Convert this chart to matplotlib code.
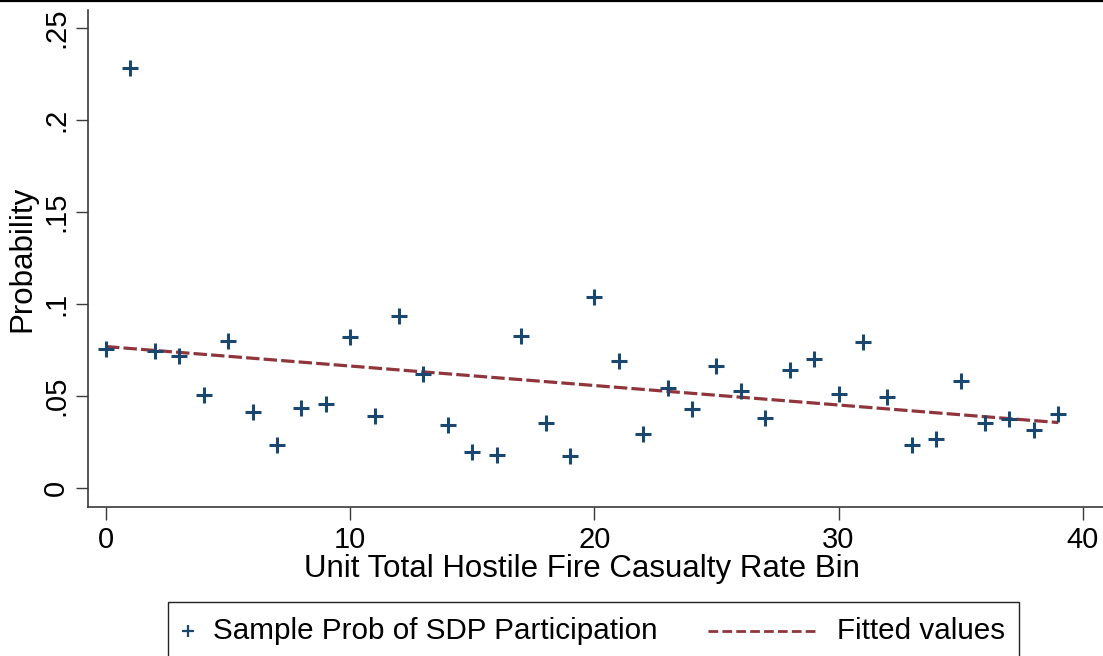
import matplotlib
matplotlib.use("Agg")
import matplotlib.pyplot as plt
from matplotlib.lines import Line2D
from matplotlib.patches import Rectangle

# bin index and sample probability per bin
bins = list(range(40))
prob = [0.0757, 0.2284, 0.0746, 0.0716, 0.0504, 0.0800, 0.0414, 0.0235,
        0.0436, 0.0458, 0.0820, 0.0394, 0.0938, 0.0621, 0.0344, 0.0199,
        0.0181, 0.0825, 0.0353, 0.0175, 0.1041, 0.0694, 0.0293, 0.0544,
        0.0429, 0.0664, 0.0530, 0.0384, 0.0643, 0.0703, 0.0514, 0.0796,
        0.0494, 0.0237, 0.0270, 0.0585, 0.0356, 0.0377, 0.0317, 0.0405]
# fitted line (straight), given at the end bins
fit_x = [0, 39]
fit_y = [0.0770, 0.0357]

x_ticks = [0, 10, 20, 30, 40]
y_ticks = [0, 0.05, 0.1, 0.15, 0.2, 0.25]
y_tick_labels = ["0", ".05", ".1", ".15", ".2", ".25"]

NAVY, MAROON, AXIS = "#1a476f", "#90353b", "#3a3a3a"

plt.rcParams.update({"font.family": ["Liberation Sans", "DejaVu Sans"],
                     "font.size": 21})

fig = plt.figure(figsize=(11.03, 6.56), dpi=100)
ax = fig.add_axes([88 / 1103, 149 / 656, 1015 / 1103, 497 / 656])

ax.plot(bins, prob, ls="none", marker="+", ms=11.5, mew=2.2, color=NAVY,
        zorder=3)
ax.plot(fit_x, fit_y, color=MAROON, lw=2.3, dashes=(4.2, 1.3), zorder=2)

ax.set_xlim(-0.737, 40.83)
ax.set_ylim(-0.0102, 0.2599)
ax.set_xticks(x_ticks)
ax.set_yticks(y_ticks)
ax.set_yticklabels(y_tick_labels, rotation=90, va="center")
for s in ("top", "right"):
    ax.spines[s].set_visible(False)
for s in ("left", "bottom"):
    ax.spines[s].set_color(AXIS)
    ax.spines[s].set_linewidth(1.2)
ax.tick_params(axis="both", length=9, width=1.0, color=AXIS, labelsize=21)
ax.tick_params(axis="x", pad=5)
ax.tick_params(axis="y", pad=4)
ax.set_xlabel("Unit Total Hostile Fire Casualty Rate Bin", fontsize=22.5)
ax.xaxis.set_label_coords(0.487, -0.095)
ax.set_ylabel("Probability", fontsize=22.5, labelpad=3)

# legend box drawn in figure pixels
W, H = 1103, 656
fig.add_artist(Rectangle((168 / W, 1 - 657 / H), (1019 - 168) / W, 55 / H,
                         transform=fig.transFigure, fill=False,
                         edgecolor="#222222", lw=1.0))
fig.add_artist(Line2D([188 / W], [1 - 631 / H], transform=fig.transFigure,
                      ls="none", marker="+", ms=9, mew=1.6, color=NAVY))
fig.text(213 / W, 1 - 631 / H, "Sample Prob of SDP Participation",
         fontsize=21.3, va="center", ha="left")
fig.add_artist(Line2D([708 / W, 818 / W], [1 - 631 / H, 1 - 631 / H],
                      transform=fig.transFigure, color=MAROON, lw=2.0,
                      dashes=(3.5, 1.5)))
fig.text(837 / W, 1 - 631 / H, "Fitted values", fontsize=21.3, va="center",
         ha="left")

# border line along the top edge
fig.add_artist(Line2D([0, 1], [1 - 1 / H, 1 - 1 / H],
                      transform=fig.transFigure, color="black", lw=1.6))

fig.savefig("out.png", dpi=100)
